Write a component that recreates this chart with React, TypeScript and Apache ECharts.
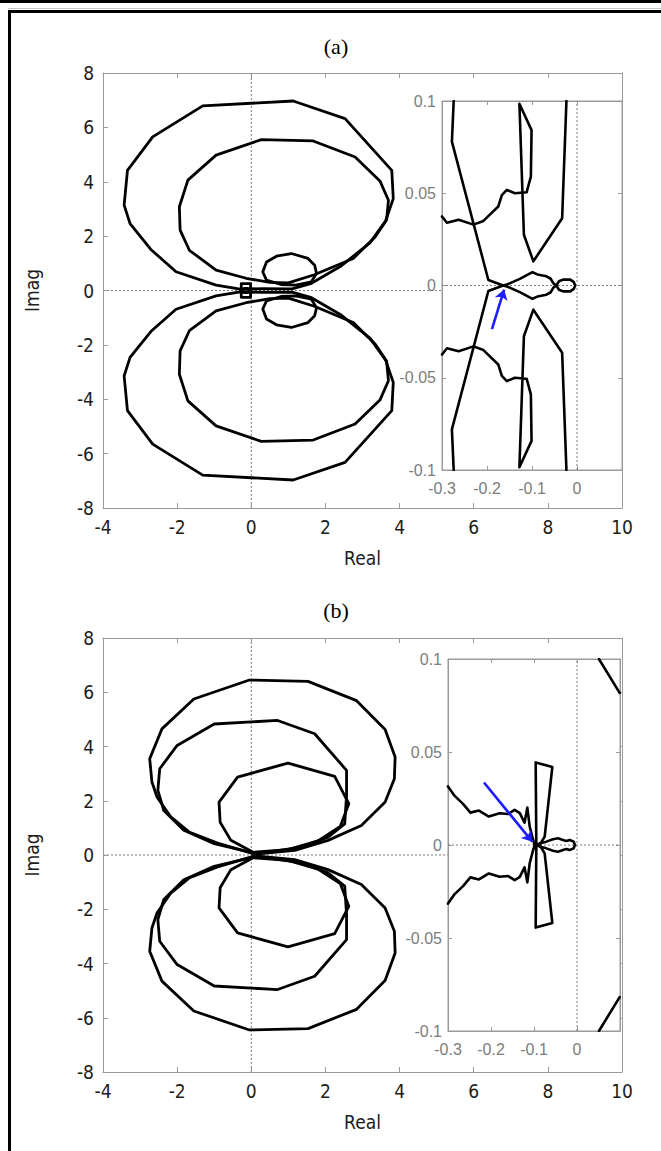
import React, { useEffect, useRef } from "react";
import * as echarts from "echarts";

type Pt = [number, number];

// ---------- Panel (a): full view, branches in the upper half-plane ----------
const outerLoopA: Pt[] = [
  [-0.3, 0.05], [0.3, 0.07], [1.1, 0.06], [1.6, 0.25], [2.4, 0.88], [3.2, 1.75],
  [3.62, 2.55], [3.83, 3.38], [3.79, 4.42], [2.53, 6.32], [1.13, 6.97], [-1.31, 6.79],
  [-2.66, 5.65], [-3.34, 4.42], [-3.43, 3.14], [-3.27, 2.46], [-2.71, 1.51],
  [-2.03, 0.69], [-0.95, 0.2], [-0.3, 0.05],
];
const innerLoopA: Pt[] = [
  [-0.14, 0.45], [0.5, 0.3], [1.0, 0.28], [1.7, 0.58], [2.75, 1.18], [3.34, 1.97],
  [3.65, 2.59], [3.7, 3.32], [3.47, 4.03], [2.8, 4.91], [1.67, 5.5], [0.27, 5.55],
  [-0.95, 4.98], [-1.71, 4.06], [-1.94, 3.08], [-1.92, 2.22], [-1.67, 1.48],
  [-0.95, 0.75], [-0.14, 0.45],
];
const smallLoopA: Pt[] = [
  [0.41, 0.38], [0.31, 0.68], [0.41, 1.05], [0.68, 1.26], [1.08, 1.36], [1.53, 1.18],
  [1.71, 0.93], [1.76, 0.63], [1.62, 0.32], [1.2, 0.2], [0.8, 0.22], [0.41, 0.38],
];
const originCellA: Pt[] = [[-0.27, 0], [-0.27, 0.25], [-0.02, 0.25], [-0.02, 0]];
const originDotA: Pt[] = [[-0.2, 0], [-0.19, 0.08], [-0.1, 0.08], [-0.09, 0]];

// ---------- Panel (a): close-up around the origin ----------
const zoomSteepA: Pt[] = [[-0.274, 0.1], [-0.278, 0.078], [-0.197, 0.003], [-0.164, 0]];
const zoomWigglyA: Pt[] = [
  [-0.3, 0.0374], [-0.289, 0.034], [-0.263, 0.0356], [-0.23, 0.033], [-0.208, 0.035],
  [-0.175, 0.0428], [-0.167, 0.049], [-0.156, 0.0518], [-0.138, 0.05], [-0.112, 0.0505],
  [-0.1025, 0.059], [-0.101, 0.0842], [-0.128, 0.0985], [-0.118, 0.0275],
  [-0.097, 0.0131], [-0.033, 0.0365], [-0.0235, 0.1],
];
const zoomPinchA: Pt[] = [
  [-0.164, 0], [-0.156, 0.0005], [-0.127, 0.0036], [-0.099, 0.0072], [-0.088, 0.006],
  [-0.068, 0.005], [-0.059, 0.0038], [-0.052, 0.001], [-0.046, 0], [-0.04, 0.0023],
  [-0.031, 0.0032], [-0.015, 0.0032], [-0.007, 0.0018], [-0.004, 0],
];
const arrowA: Pt[] = [[-0.189, -0.0237], [-0.162, -0.0022]];

// ---------- Panel (b): full view ----------
const outerLoopB: Pt[] = [
  [0.05, 0.05], [-0.91, 0.44], [-1.68, 0.85], [-2.18, 1.42], [-2.54, 2.13], [-2.68, 2.69],
  [-2.74, 3.55], [-2.41, 4.65], [-1.55, 5.75], [-0.05, 6.45], [1.53, 6.4], [2.84, 5.69],
  [3.61, 4.63], [3.88, 3.61], [3.86, 2.81], [3.61, 1.95], [2.97, 1.09], [2.07, 0.54],
  [1.17, 0.17], [0.26, 0.05], [0.05, 0.05],
];
const middleLoopB: Pt[] = [
  [0.05, 0.08], [-1.0, 0.42], [-1.82, 0.91], [-2.36, 1.64], [-2.52, 2.38], [-2.47, 3.18],
  [-2.0, 4.04], [-1.0, 4.83], [0.71, 4.96], [1.71, 4.47], [2.57, 3.12], [2.57, 2.2],
  [2.52, 1.15], [2.07, 0.66], [1.35, 0.29], [0.44, 0.11], [0.05, 0.08],
];
const innerLoopB: Pt[] = [
  [0.05, 0.1], [-0.55, 0.54], [-0.84, 1.21], [-0.87, 1.95], [-0.37, 2.87], [0.99, 3.39],
  [2.25, 2.9], [2.63, 1.89], [2.4, 1.05], [1.8, 0.52], [0.99, 0.2], [0.05, 0.1],
];

// ---------- Panel (b): close-up around the origin ----------
const zoomWigglyB: Pt[] = [
  [-0.3, 0.0315], [-0.2845, 0.0264], [-0.265, 0.0221], [-0.248, 0.0174], [-0.228, 0.0185],
  [-0.205, 0.0153], [-0.18, 0.0171], [-0.16, 0.0167], [-0.145, 0.0189], [-0.133, 0.0171],
  [-0.122, 0.012], [-0.1155, 0.0201], [-0.11, 0.0099], [-0.102, 0.0027], [-0.098, 0],
];
const zoomBladeB: Pt[] = [[-0.0946, 0], [-0.0961, 0.0444], [-0.0574, 0.0419], [-0.0752, 0.0045], [-0.087, 0]];
const zoomPinchB: Pt[] = [
  [-0.0946, 0], [-0.085, 0.001], [-0.0713, 0.0018], [-0.0558, 0.0031], [-0.0442, 0.0036],
  [-0.0326, 0.0027], [-0.0248, 0.0022], [-0.017, 0.0027], [-0.0078, 0.0018], [-0.0047, 0],
];
const zoomFarArcB: Pt[] = [[0.051, 0.1], [0.0992, 0.0818]];
const arrowB: Pt[] = [[-0.2163, 0.0336], [-0.104, 0.0018]];

// ---------- tick labels ----------
const mainXTicks = ["-4", "-2", "0", "2", "4", "6", "8", "10"];
const mainYTicks = ["-8", "-6", "-4", "-2", "0", "2", "4", "6", "8"];
const zoomXTicks = ["-0.3", "-0.2", "-0.1", "0", ""];
const zoomYTicks = ["-0.1", "-0.05", "0", "0.05", "0.1"];

// negative-frequency branch is the complex conjugate of the positive one
const conj = (pts: Pt[]): Pt[] => pts.map(([x, y]) => [x, -y] as Pt);
const throughAxis = (pts: Pt[]): Pt[] => [...pts, ...conj(pts).reverse()];

const AXIS_GRAY = "#9a9a9a";
const SANS = "'DejaVu Sans Condensed', 'DejaVu Sans', sans-serif";

type AxisOpt = {
  grid: number; pos: string; min: number; max: number; step: number;
  labels?: string[]; inset: boolean; z: number; name?: string; nameGap?: number;
  labelMargin?: number;
};

function makeAxis(o: AxisOpt) {
  const labels = o.labels;
  return {
    type: "value", gridIndex: o.grid, position: o.pos, min: o.min, max: o.max, interval: o.step, z: o.z,
    axisLine: { show: true, onZero: false, lineStyle: { color: AXIS_GRAY, width: 1 } },
    axisTick: { show: true, inside: true, length: o.inset ? 4 : 5, lineStyle: { color: AXIS_GRAY, width: 1 } },
    splitLine: { show: false },
    axisLabel: labels
      ? {
          show: true,
          color: o.inset ? "#7c7c7c" : "#1c1c1c",
          fontFamily: o.inset ? "'Liberation Sans', sans-serif" : SANS,
          fontSize: o.inset ? 16 : 19,
          margin: o.labelMargin ?? (o.inset ? 6 : 9),
          formatter: (v: number) => labels[Math.round((v - o.min) / o.step)] ?? "",
        }
      : { show: false },
    name: o.name,
    nameLocation: "middle",
    nameGap: o.nameGap,
    nameTextStyle: { color: "#1c1c1c", fontFamily: SANS, fontSize: 19 },
  };
}

function curve(data: Pt[], xi: number, yi: number, z: number, width = 2.8) {
  return {
    type: "line", data, xAxisIndex: xi, yAxisIndex: yi, showSymbol: false, symbol: "none",
    silent: true, z, clip: true,
    lineStyle: { color: "#000", width, join: "round", cap: "round" },
  };
}

function guide(data: Pt[], xi: number, yi: number, z: number) {
  return {
    type: "line", data, xAxisIndex: xi, yAxisIndex: yi, showSymbol: false, symbol: "none",
    silent: true, z, lineStyle: { color: "#7a7a7a", width: 1, type: [2, 2] },
  };
}

function arrow(pts: Pt[], xi: number, yi: number) {
  return {
    type: "lines", coordinateSystem: "cartesian2d", xAxisIndex: xi, yAxisIndex: yi, z: 14, silent: true,
    symbol: ["none", "arrow"], symbolSize: 10,
    lineStyle: { color: "#1d1dff", width: 2.6, opacity: 1 },
    data: [{ coords: pts }],
  };
}

type Box = { left: number; top: number; width: number; height: number };
type PanelGeo = { main: Box; inset: Box };

const panelA: PanelGeo = {
  main: { left: 103, top: 73, width: 519, height: 435 },
  inset: { left: 442, top: 101, width: 180, height: 369 },
};
const panelB: PanelGeo = {
  main: { left: 103, top: 638, width: 519, height: 434 },
  inset: { left: 448, top: 659, width: 172, height: 372 },
};

export default function App() {
  const ref = useRef<HTMLDivElement>(null);

  useEffect(() => {
    if (!ref.current) return;
    const chart = echarts.init(ref.current, undefined, { renderer: "svg" });

    const grids: any[] = [];
    const xAxes: any[] = [];
    const yAxes: any[] = [];
    const series: any[] = [];

    const panels: { geo: PanelGeo; main: Pt[][]; loops: Pt[][]; zoom: Pt[][]; zoomLoose: Pt[][]; arrow: Pt[] }[] = [
      {
        geo: panelA,
        loops: [outerLoopA, innerLoopA, smallLoopA],
        main: [throughAxis(originCellA), throughAxis(originDotA)],
        zoom: [throughAxis(zoomSteepA), throughAxis(zoomPinchA)],
        zoomLoose: [zoomWigglyA],
        arrow: arrowA,
      },
      {
        geo: panelB,
        loops: [outerLoopB, middleLoopB, innerLoopB],
        main: [],
        zoom: [throughAxis(zoomBladeB), throughAxis(zoomPinchB)],
        zoomLoose: [zoomWigglyB, zoomFarArcB],
        arrow: arrowB,
      },
    ];

    panels.forEach((p, k) => {
      const gMain = 2 * k;
      const gIn = 2 * k + 1;
      grids.push({ ...p.geo.main, show: false, containLabel: false, z: 0 });
      grids.push({
        ...p.geo.inset, show: true, containLabel: false, z: 10,
        backgroundColor: "#ffffff", borderColor: AXIS_GRAY, borderWidth: 1,
      });
      const base = 4 * k;
      xAxes.push(makeAxis({ grid: gMain, pos: "bottom", min: -4, max: 10, step: 2, labels: mainXTicks, inset: false, z: 3, name: "Real", nameGap: 40 }));
      xAxes.push(makeAxis({ grid: gMain, pos: "top", min: -4, max: 10, step: 2, inset: false, z: 3 }));
      xAxes.push(makeAxis({ grid: gIn, pos: "bottom", min: -0.3, max: 0.1, step: 0.1, labels: zoomXTicks, inset: true, z: 11, labelMargin: 10 }));
      xAxes.push(makeAxis({ grid: gIn, pos: "top", min: -0.3, max: 0.1, step: 0.1, inset: true, z: 11 }));
      yAxes.push(makeAxis({ grid: gMain, pos: "left", min: -8, max: 8, step: 2, labels: mainYTicks, inset: false, z: 3, name: "Imag", nameGap: 62 }));
      yAxes.push(makeAxis({ grid: gMain, pos: "right", min: -8, max: 8, step: 2, inset: false, z: 3 }));
      yAxes.push(makeAxis({ grid: gIn, pos: "left", min: -0.1, max: 0.1, step: 0.05, labels: zoomYTicks, inset: true, z: 11 }));
      yAxes.push(makeAxis({ grid: gIn, pos: "right", min: -0.1, max: 0.1, step: 0.05, inset: true, z: 11 }));

      const mx = base, my = base, ix = base + 2, iy = base + 2;
      series.push(guide([[0, -8], [0, 8]], mx, my, 1));
      series.push(guide([[-4, 0], [10, 0]], mx, my, 1));
      p.loops.forEach((l) => {
        series.push(curve(l, mx, my, 2));
        series.push(curve(conj(l), mx, my, 2));
      });
      p.main.forEach((l) => series.push(curve(l, mx, my, 2)));

      series.push(guide([[0, -0.1], [0, 0.1]], ix, iy, 12));
      series.push(guide([[-0.3, 0], [0.1, 0]], ix, iy, 12));
      p.zoom.forEach((l) => series.push(curve(l, ix, iy, 13, 2.6)));
      p.zoomLoose.forEach((l) => {
        series.push(curve(l, ix, iy, 13, 2.6));
        series.push(curve(conj(l), ix, iy, 13, 2.6));
      });
      series.push(arrow(p.arrow, ix, iy));
    });

    const titleStyle = (text: string) => ({
      text, font: "22px 'Liberation Serif', serif", fill: "#000",
      textAlign: "center", textVerticalAlign: "middle", align: "center", verticalAlign: "middle",
    });

    chart.setOption({
      animation: false,
      backgroundColor: "#ffffff",
      grid: grids,
      xAxis: xAxes,
      yAxis: yAxes,
      series,
      graphic: [
        { type: "rect", shape: { x: 0, y: 0, width: 661, height: 3 }, style: { fill: "#000" }, z: 20 },
        { type: "line", shape: { x1: 8, y1: 8.5, x2: 661, y2: 8.5 }, style: { stroke: "#c4c4c4", lineWidth: 1 }, z: 20 },
        { type: "rect", shape: { x: 8, y: 10, width: 653, height: 3 }, style: { fill: "#000" }, z: 20 },
        { type: "rect", shape: { x: 8, y: 10, width: 3, height: 1141 }, style: { fill: "#000" }, z: 20 },
        { type: "text", x: 336, y: 46, style: titleStyle("(a)"), z: 20 },
        { type: "text", x: 336, y: 610, style: titleStyle("(b)"), z: 20 },
      ],
    });

    return () => chart.dispose();
  }, []);

  return (
    <div
      ref={ref}
      style={{ position: "absolute", left: 0, top: 0, width: 661, height: 1151, background: "#fff" }}
    />
  );
}
